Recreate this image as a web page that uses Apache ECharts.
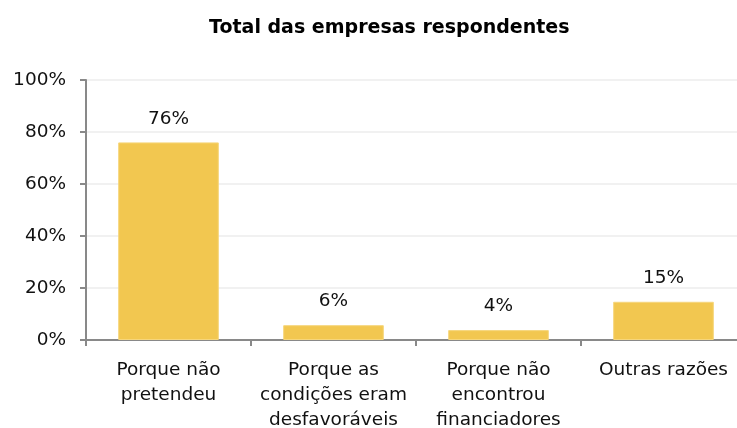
<!DOCTYPE html>
<html>
<head>
<meta charset="utf-8">
<script src="https://cdn.jsdelivr.net/npm/echarts@6/dist/echarts.min.js"></script>
<style>
  html, body { margin: 0; padding: 0; background: #fff; }
  #chart { width: 737px; height: 428px; }
</style>
</head>
<body>
<div id="chart"></div>
<script>
// dados
const categories = ['Porque não\npretendeu', 'Porque as\ncondições eram\ndesfavoráveis', 'Porque não\nencontrou\nfinanciadores', 'Outras razões']
const values = [76, 5.7, 3.8, 14.7]
const yTicks = [0, 20, 40, 60, 80, 100]

const font = 'DejaVu Sans, Verdana, sans-serif'
const chart = echarts.init(document.getElementById('chart'))

chart.setOption({
  animation: false,
  title: {
    text: 'Total das empresas respondentes',
    left: 204,
    top: 14,
    textStyle: { fontFamily: font, fontSize: 19, fontWeight: 'bold', color: '#000' }
  },
  grid: { left: 86, top: 80, width: 660, height: 260, outerBoundsMode: 'none' },
  xAxis: {
    type: 'category',
    data: categories,
    axisLine: { lineStyle: { color: '#898989', width: 2 } },
    axisTick: { show: true, length: 6, lineStyle: { color: '#898989', width: 2 } },
    axisLabel: { color: '#111', fontFamily: font, fontSize: 18.5, lineHeight: 25, margin: 18, interval: 0 }
  },
  yAxis: {
    type: 'value',
    min: yTicks[0],
    max: yTicks[yTicks.length - 1],
    interval: 20,
    axisLine: { show: true, lineStyle: { color: '#898989', width: 2 } },
    axisTick: { show: true, length: 6, lineStyle: { color: '#898989', width: 2 } },
    axisLabel: { color: '#111', fontFamily: font, fontSize: 18.5, margin: 20, formatter: '{value}%' },
    splitLine: { lineStyle: { color: '#ededed', width: 1.5 } }
  },
  series: [{
    type: 'bar',
    data: values,
    barWidth: '61%',
    itemStyle: { color: '#f2c750', borderColor: '#f6d67c', borderWidth: 1 },
    label: {
      show: true,
      position: 'top',
      distance: 14,
      color: '#111',
      fontFamily: font,
      fontSize: 18.5,
      formatter: p => Math.round(p.value) + '%'
    }
  }]
})
</script>
</body>
</html>
